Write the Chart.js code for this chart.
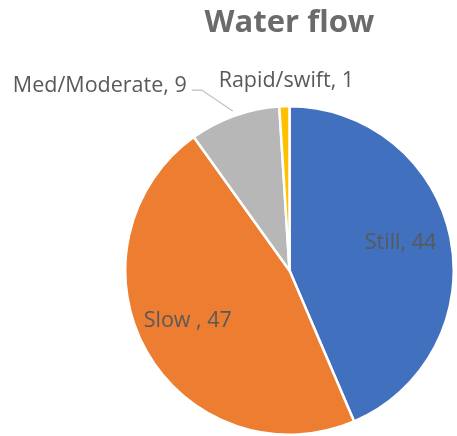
<!DOCTYPE html>
<html>
<head>
  <meta charset="UTF-8">
  <title>Water flow</title>
  <script src="https://cdn.jsdelivr.net/npm/chart.js"></script>
  <style>
    html, body { margin: 0; padding: 0; background: #ffffff; }
    .chart-container { position: relative; width: 457px; height: 436px; }
  </style>
</head>
<body>
  <div class="chart-container">
    <canvas id="flowChart"></canvas>
  </div>

  <script>
    // dados do grafico
    const categories = ['Still', 'Slow ', 'Med/Moderate', 'Rapid/swift'];
    const counts = [44, 47, 9, 1];
    const colors = ['#4170BE', '#ED7D31', '#B7B7B7', '#FFC000'];

    const labelFont = '21.5px "Open Sans", sans-serif';
    const labelColor = '#595959';

    // rotulos desenhados a partir da geometria de cada fatia
    const sliceLabels = {
      id: 'sliceLabels',
      afterDatasetsDraw(chart) {
        const ctx = chart.ctx;
        const arcs = chart.getDatasetMeta(0).data;
        ctx.save();
        ctx.font = labelFont;
        ctx.fillStyle = labelColor;
        ctx.textBaseline = 'alphabetic';

        arcs.forEach(function(arc, i) {
          const p = arc.getProps(['x', 'y', 'startAngle', 'endAngle', 'outerRadius'], true);
          const mid = (p.startAngle + p.endAngle) / 2;
          const cos = Math.cos(mid), sin = Math.sin(mid);
          const text = categories[i] + ', ' + counts[i];

          if (i < 2) {
            // dentro da fatia
            const r = p.outerRadius * 0.69;
            ctx.textAlign = 'center';
            ctx.fillText(text, p.x + cos * r - (i === 1 ? 3 : 0), p.y + sin * r + 1);
          } else if (i === 2) {
            // fora, com linha guia
            const ex = p.x + cos * (p.outerRadius + 5);
            const ey = p.y + sin * (p.outerRadius + 5);
            const kx = ex - 31, ky = ey - 21;
            ctx.strokeStyle = '#BFBFBF';
            ctx.lineWidth = 1.2;
            ctx.beginPath();
            ctx.moveTo(ex, ey);
            ctx.lineTo(kx, ky);
            ctx.lineTo(kx - 10, ky);
            ctx.stroke();
            ctx.textAlign = 'right';
            ctx.fillText(text, kx - 15, ky + 2);
          } else {
            const ex = p.x + cos * p.outerRadius;
            const ey = p.y + sin * p.outerRadius;
            ctx.textAlign = 'center';
            ctx.fillText(text, ex + 2, ey - 19);
          }
        });
        ctx.restore();
      }
    };

    const ctx = document.getElementById('flowChart').getContext('2d');
    new Chart(ctx, {
      type: 'pie',
      data: {
        labels: categories,
        datasets: [{
          data: counts,
          backgroundColor: colors,
          borderColor: '#ffffff',
          borderWidth: 2.5
        }]
      },
      options: {
        responsive: true,
        maintainAspectRatio: false,
        animation: false,
        layout: {
          padding: { left: 124, right: 2, top: 8, bottom: 0 }
        },
        plugins: {
          legend: { display: false },
          tooltip: { enabled: false },
          title: {
            display: true,
            text: 'Water flow',
            color: '#6B6B6B',
            font: { family: '"Open Sans", sans-serif', size: 31, weight: 'bold', lineHeight: 1.0 },
            padding: { top: 0, bottom: 66 }
          }
        }
      },
      plugins: [sliceLabels]
    });
  </script>
</body>
</html>
